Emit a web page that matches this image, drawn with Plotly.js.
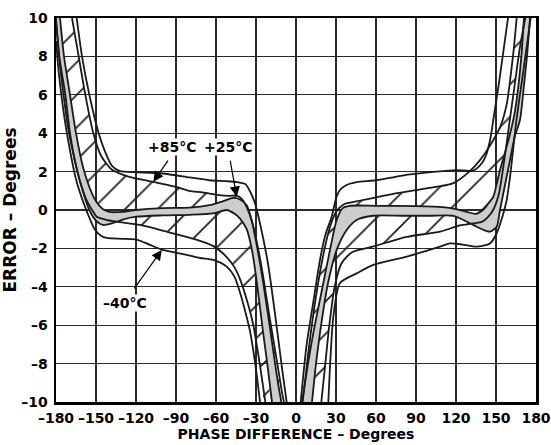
<!DOCTYPE html>
<html>
<head>
<meta charset="utf-8">
<script src="https://cdn.plot.ly/plotly-3.0.1.min.js"></script>
<style>html,body{margin:0;padding:0;background:#fff;}#chart{width:551px;height:445px;}</style>
</head>
<body>
<div id="chart"></div>
<script>
// ---- tick labels ----
const xTickVals = [-180,-150,-120,-90,-60,-30,0,30,60,90,120,150,180];
const xTickText = ['–180','–150','–120','–90','–60','–30','0','30','60','90','120','150','180'];
const yTickVals = [-10,-8,-6,-4,-2,0,2,4,6,8,10];
const yTickText = ['–10','–8','–6','–4','–2','0','2','4','6','8','10'];

// ---- LEFT half curves (negative phase) ----
// +85°C outer
const hotOuterLX = [-164.5,-160.5,-155,-148,-143,-138,-132,-120,-100,-80,-65,-52,-44,-38,-34,-31,-27,-21,-15,-10,-7];
const hotOuterLY = [10,8,6,4,3,2.3,2.02,1.97,1.9,1.7,1.55,1.5,1.45,1.35,0.9,0.4,-0.7,-2.8,-5.8,-8.5,-10];
// +85°C inner
const hotInnerLX = [-168,-163,-158,-152,-146,-138,-125,-107,-90,-80,-70,-58,-50,-45,-41,-37,-33,-29,-25,-20,-14,-10.5,-9];
const hotInnerLY = [10,8,6,4,2.8,2.1,1.73,1.47,1.2,1.0,0.92,0.78,0.74,0.76,0.6,0.15,-0.6,-1.8,-3.3,-5.5,-8.0,-9.5,-10];
// +25°C upper edge
const roomUpperLX = [-177,-174,-169.5,-165,-160,-155,-150,-145,-140,-130,-120,-100,-80,-65,-55,-47,-42,-37,-33,-29,-25,-19,-14,-11];
const roomUpperLY = [10,8,6,4,2.3,1.2,0.45,0.05,-0.1,-0.1,0.0,0.1,0.12,0.25,0.45,0.63,0.55,0.25,-0.6,-2.0,-3.6,-6.4,-8.8,-10];
// +25°C lower edge
const roomLowerLX = [-180,-177.5,-173,-169.5,-165,-160,-155,-150,-145,-138,-130,-120,-100,-80,-62,-52,-46,-42,-37,-33,-29.5,-25,-21,-18];
const roomLowerLY = [10,8,6,4,2.3,1.0,0,-0.55,-0.78,-0.7,-0.5,-0.35,-0.28,-0.25,-0.18,0.0,-0.2,-0.45,-1.0,-2.1,-3.7,-6.2,-8.3,-10];
// -40°C inner
const coldInnerLX = [-180,-177,-174,-171,-167,-162,-157,-152,-149.5,-143,-134.5,-117,-97,-77,-62,-52,-46,-42,-36,-32,-27,-23];
const coldInnerLY = [9.8,7.5,5.8,4.3,2.9,1.5,0.5,-0.1,-0.35,-0.5,-0.61,-0.78,-1.13,-1.5,-1.88,-2.45,-3.0,-3.6,-4.9,-6.0,-8.1,-10];
// -40°C outer
const coldOuterLX = [-180,-178,-176,-173,-169.5,-165,-160,-155,-151,-146,-142,-130,-119,-110,-100,-82,-72,-62,-52,-46,-42,-38,-34.5,-30,-27];
const coldOuterLY = [8.8,7.2,6,4.5,3.1,1.6,0.5,-0.4,-1.0,-1.35,-1.45,-1.5,-1.55,-1.8,-2.08,-2.34,-2.5,-2.6,-2.95,-3.5,-4.3,-5.3,-6.3,-8.3,-10];

// ---- RIGHT half curves (positive phase) ----
const hotOuterRX = [3.5,8,12.5,18,22,26.75,30,33,38,45.5,60,85.5,105,120,133,140,143,146,148,152,156,159];
const hotOuterRY = [-10,-7,-5,-2.6,-1.3,-0.35,0.6,1.04,1.3,1.45,1.55,1.85,2.0,2.08,2.05,2.5,2.95,3.8,4.7,6.5,8.5,10];
const hotInnerRX = [5,10,15,20,25,30,36,45,53,70,90.5,105,118,130,138,145,153,158,161,163.5,165.5];
const hotInnerRY = [-10,-7,-4.5,-2.5,-1.0,-0.1,0.3,0.45,0.55,0.8,1.04,1.2,1.4,2.0,2.6,3.3,4.3,5.5,7.0,8.5,10];
const roomUpperRX = [4.5,9,13,17,20.5,25.5,30.5,35,40,60,90,110,120,128,135,141,145,148,151,153,158,163,166,169,171];
const roomUpperRY = [-10,-8,-6.4,-5,-3.8,-2.08,-0.52,0.1,0.22,0.22,0.2,0.15,0.05,-0.1,-0.2,0.05,0.4,0.69,1.5,2.08,3.3,4.7,6,8,10];
const roomLowerRX = [12,15,18,21,24,30.5,38,45.5,58,80,100,118,128,135.5,141,145.5,150.5,153,155.5,160.5,164,168,171,173.5,175.5];
const roomLowerRY = [-10,-8,-6.4,-5,-3.8,-2.08,-1.04,-0.52,-0.3,-0.3,-0.3,-0.3,-0.6,-0.87,-1.05,-1.13,-0.87,0,0.87,2.6,3.8,4.7,6.5,8.2,10];
const coldInnerRX = [19,22,25,29,34,42,58,83,108,123,133,140,147,152,156,160,164,168,172];
const coldInnerRY = [-10,-8,-6,-4,-2.8,-2.2,-1.9,-1.4,-1.13,-0.8,-0.7,-0.6,-0.1,0.8,2.5,4.5,6.5,8.5,10];
const coldOuterRX = [24.25,26,28,33,45.5,58,83,108,115.5,125,135.5,145.5,150.5,155,158,161,165,169,173,176];
const coldOuterRY = [-10,-7.5,-5.56,-3.8,-3.3,-2.86,-2.43,-1.91,-1.74,-1.8,-1.91,-1.74,-1.21,-0.3,0.52,2,4.5,6.5,8.5,10];

// ---- labels ----
const labelText = ['+85°C','+25°C','–40°C'];
const labelX = [-92.6,-50.5,-128.3];
const labelY = [3.3,3.3,-4.82];
const arrowTipX = [-107,-44.5,-100.7];
const arrowTipY = [1.47,0.69,-2.08];
const arrowTailDX = [15.7,-6.7,-28.4];
const arrowTailDY = [-22.7,-37.4,40];

const INK = '#1a1a1a';
const GRAY = '#cdcdcd';
const SMOOTH = 0.7;

function band(ax, ay, bx, by) {
  return {x: ax.concat(bx.slice().reverse()), y: ay.concat(by.slice().reverse())};
}
function hatchTrace(b) {
  return {x:b.x, y:b.y, type:'scatter', mode:'lines', fill:'toself',
    fillcolor:'rgba(0,0,0,0)',
    fillpattern:{shape:'/', size:23, solidity:0.08, fgcolor:'#222', bgcolor:'rgba(0,0,0,0)', fillmode:'replace'},
    line:{width:0, shape:'spline', smoothing:SMOOTH, color:'rgba(0,0,0,0)'}, hoverinfo:'skip'};
}
function grayTrace(b) {
  return {x:b.x, y:b.y, type:'scatter', mode:'lines', fill:'toself', fillcolor:GRAY,
    line:{width:0, shape:'spline', smoothing:SMOOTH, color:'rgba(0,0,0,0)'}, hoverinfo:'skip'};
}
function lineTrace(x, y) {
  return {x:x, y:y, type:'scatter', mode:'lines',
    line:{width:1.8, color:INK, shape:'spline', smoothing:SMOOTH}, hoverinfo:'skip'};
}

const traces = [
  hatchTrace(band(hotInnerLX, hotInnerLY, coldInnerLX, coldInnerLY)),
  hatchTrace(band(hotInnerRX, hotInnerRY, coldInnerRX, coldInnerRY)),
  grayTrace(band(roomUpperLX, roomUpperLY, roomLowerLX, roomLowerLY)),
  grayTrace(band(roomUpperRX, roomUpperRY, roomLowerRX, roomLowerRY)),
  lineTrace(hotOuterLX, hotOuterLY), lineTrace(hotInnerLX, hotInnerLY),
  lineTrace(roomUpperLX, roomUpperLY), lineTrace(roomLowerLX, roomLowerLY),
  lineTrace(coldInnerLX, coldInnerLY), lineTrace(coldOuterLX, coldOuterLY),
  lineTrace(hotOuterRX, hotOuterRY), lineTrace(hotInnerRX, hotInnerRY),
  lineTrace(roomUpperRX, roomUpperRY), lineTrace(roomLowerRX, roomLowerRY),
  lineTrace(coldInnerRX, coldInnerRY), lineTrace(coldOuterRX, coldOuterRY)
];

const FONT = {family:'DejaVu Sans, Arial, sans-serif', size:14, color:'#000', weight:'bold'};
const YTITLEFONT = {family:'DejaVu Sans, Arial, sans-serif', size:17, color:'#000', weight:'bold'};

const annotations = [];
for (let i = 0; i < labelText.length; i++) {
  annotations.push({x:labelX[i], y:labelY[i], xref:'x', yref:'y', text:labelText[i],
    showarrow:false, font:FONT, bgcolor:'#fff', borderpad:0});
  annotations.push({x:arrowTipX[i], y:arrowTipY[i], xref:'x', yref:'y', text:'',
    showarrow:true, ax:arrowTailDX[i], ay:arrowTailDY[i], arrowhead:2, arrowsize:1.7,
    arrowwidth:1.2, arrowcolor:'#000', standoff:0, startstandoff:0});
}

const layout = {
  width:551, height:445,
  margin:{l:56, r:15, t:18, b:43},
  paper_bgcolor:'#fff', plot_bgcolor:'#fff',
  showlegend:false,
  xaxis:{range:[-180,180], tickvals:xTickVals, ticktext:xTickText, ticks:'',
    showgrid:true, gridcolor:'#2a2a2a', gridwidth:1.3, zeroline:false,
    showline:true, mirror:true, linecolor:'#000', linewidth:2.5, ticklabelstandoff:2,
    tickfont:FONT, title:{text:'PHASE DIFFERENCE – Degrees', font:FONT, standoff:4}, fixedrange:true},
  yaxis:{range:[-10,10], tickvals:yTickVals, ticktext:yTickText, ticks:'',
    showgrid:true, gridcolor:'#2a2a2a', gridwidth:1.3, zeroline:false,
    showline:true, mirror:true, linecolor:'#000', linewidth:2.5, ticklabelstandoff:3,
    tickfont:FONT, title:{text:'ERROR – Degrees', font:YTITLEFONT, standoff:6}, fixedrange:true},
  annotations:annotations
};

Plotly.newPlot('chart', traces, layout, {displayModeBar:false, staticPlot:true});
</script>
</body>
</html>
